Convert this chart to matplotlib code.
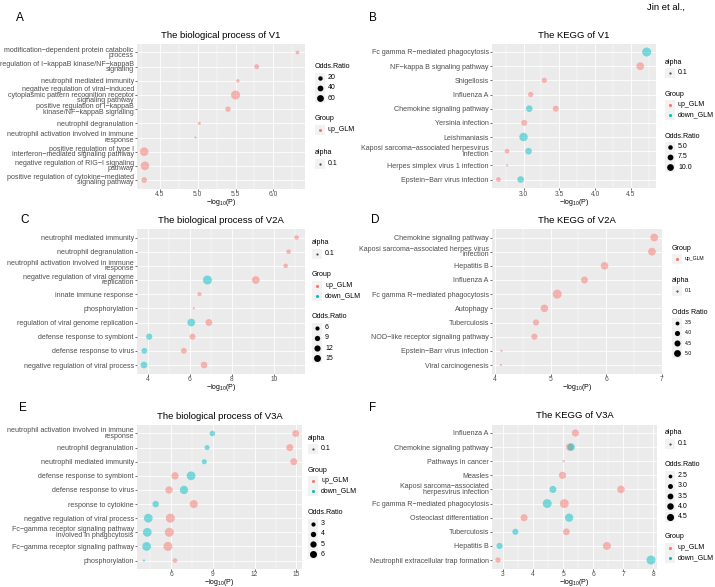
import matplotlib.pyplot as plt
import numpy as np
from matplotlib.patches import Rectangle
from matplotlib.ticker import AutoMinorLocator

plt.rcParams['font.family'] = ['Liberation Sans', 'DejaVu Sans']
plt.rcParams['mathtext.default'] = 'regular'

nan = np.nan
UP = '#F8766D'
DOWN = '#00BFC4'
W, H = 715, 587

# ---------------- data (rows listed top to bottom) ----------------
a_terms = ["modification\u2212dependent protein catabolic\nprocess",
           "regulation of I\u2212kappaB kinase/NF\u2212kappaB\nsignaling",
           "neutrophil mediated immunity",
           "negative regulation of viral\u2212induced\ncytoplasmic pattern recognition receptor\nsignaling pathway",
           "positive regulation of I\u2212kappaB\nkinase/NF\u2212kappaB signaling",
           "neutrophil degranulation",
           "neutrophil activation involved in immune\nresponse",
           "positive regulation of type I\ninterferon\u2212mediated signaling pathway",
           "negative regulation of RIG\u2212I signaling\npathway",
           "positive regulation of cytokine\u2212mediated\nsignaling pathway"]
a_up_p = [6.32, 5.78, 5.53, 5.50, 5.40, 5.02, 4.97, 4.29, 4.30, 4.29]
a_up_or = [8, 15, 7, 70, 18, 6, 5, 62, 62, 22]
a_down_p = [nan] * 10
a_down_or = [nan] * 10
a_ticks = [4.5, 5.0, 5.5, 6.0]
a_or_breaks = ["20", "40", "60"]

b_terms = ["Fc gamma R\u2212mediated phagocytosis", "NF\u2212kappa B signaling pathway",
           "Shigellosis", "Influenza A", "Chemokine signaling pathway",
           "Yersinia infection", "Leishmaniasis",
           "Kaposi sarcoma\u2212associated herpesvirus\ninfection",
           "Herpes simplex virus 1 infection", "Epstein\u2212Barr virus infection"]
b_up_p = [nan, 4.63, 3.29, 3.10, 3.45, 3.01, nan, 2.77, 2.77, 2.65]
b_up_or = [nan, 8.5, 4.5, 4.5, 5.5, 5.5, nan, 4.0, 2.8, 4.0]
b_down_p = [4.72, nan, nan, nan, 3.08, nan, 3.00, 3.07, nan, 2.96]
b_down_or = [11.5, nan, nan, nan, 6.5, nan, 10.0, 6.5, nan, 6.5]
b_ticks = [3.0, 3.5, 4.0, 4.5]
b_or_breaks = ["5.0", "7.5", "10.0"]

c_terms = ["neutrophil mediated immunity", "neutrophil degranulation",
           "neutrophil activation involved in immune\nresponse",
           "negative regulation of viral genome\nreplication",
           "innate immune response", "phosphorylation",
           "regulation of viral genome replication",
           "defense response to symbiont", "defense response to virus",
           "negative regulation of viral process"]
c_up_p = [11.07, 10.69, 10.55, 9.13, 6.45, 6.18, 6.90, 6.12, 5.71, 6.67]
c_up_or = [5, 5, 5, 12, 4.5, 3.5, 9.5, 7.5, 7, 9]
c_down_p = [nan, nan, nan, 6.83, nan, nan, 6.06, 4.06, 3.83, 3.81]
c_down_or = [nan, nan, nan, 16.5, nan, nan, 12, 8, 7, 9]
c_ticks = [4, 6, 8, 10]
c_or_breaks = ["6", "9", "12", "15"]

d_terms = ["Chemokine signaling pathway",
           "Kaposi sarcoma\u2212associated herpes virus\ninfection",
           "Hepatitis B", "Influenza A", "Fc gamma R\u2212mediated phagocytosis",
           "Autophagy", "Tuberculosis", "NOD\u2212like receptor signaling pathway",
           "Epstein\u2212Barr virus infection", "Viral carcinogenesis"]
d_up_p = [6.86, 6.82, 5.97, 5.61, 5.12, 4.89, 4.74, 4.71, 4.12, 4.11]
d_up_or = [4.6, 4.6, 4.5, 4.2, 5.3, 4.5, 3.9, 3.9, 3.2, 3.2]
d_down_p = [nan] * 10
d_down_or = [nan] * 10
d_ticks = [4, 5, 6, 7]
d_or_breaks = ["3.5", "4.0", "4.5", "5.0"]

e_terms = ["neutrophil activation involved in immune\nresponse",
           "neutrophil degranulation", "neutrophil mediated immunity",
           "defense response to symbiont", "defense response to virus",
           "response to cytokine", "negative regulation of viral process",
           "Fc\u2212gamma receptor signaling pathway\ninvolved in phagocytosis",
           "Fc\u2212gamma receptor signaling pathway", "phosphorylation"]
e_up_p = [14.95, 14.52, 14.81, 6.29, 5.86, 7.63, 5.95, 5.88, 5.78, 6.29]
e_up_or = [4.2, 4.2, 4.2, 4.5, 4.5, 5.2, 6.3, 6.3, 6.3, 2.7]
e_down_p = [8.97, 8.59, 8.39, 7.44, 6.93, 4.90, 4.37, 4.30, 4.25, 4.06]
e_down_or = [3.2, 2.9, 2.9, 6.0, 5.5, 3.8, 6.0, 6.0, 6.0, 2.2]
e_ticks = [6, 9, 12, 15]
e_or_breaks = ["3", "4", "5", "6"]

f_terms = ["Influenza A", "Chemokine signaling pathway", "Pathways in cancer",
           "Measles", "Kaposi sarcoma\u2212associated\nherpesvirus infection",
           "Fc gamma R\u2212mediated phagocytosis", "Osteoclast differentiation",
           "Tuberculosis", "Hepatitis B", "Neutrophil extracellular trap formation"]
f_up_p = [5.41, 5.22, 5.02, 4.98, 6.93, 5.04, 3.70, 5.11, 6.46, 2.83]
f_up_or = [3.5, 3.6, 2.2, 3.5, 3.7, 4.5, 3.4, 3.3, 3.9, 2.7]
f_down_p = [nan, 5.27, nan, nan, 4.66, 4.47, 5.20, 3.41, 2.88, 7.93]
f_down_or = [nan, 3.6, nan, nan, 3.4, 4.5, 4.1, 3.0, 3.0, 4.6]
f_ticks = [3, 4, 5, 6, 7, 8]
f_or_breaks = ["2.5", "3.0", "3.5", "4.0", "4.5"]

fig = plt.figure(figsize=(7.15, 5.87), dpi=100)
over = fig.add_axes([0, 0, 1, 1], zorder=5)
over.set_xlim(0, W)
over.set_ylim(H, 0)
over.axis('off')


def dsize(v, lo, hi):
    return 1.6 + 4.9 * np.sqrt((np.asarray(v, float) - lo) / (hi - lo))


def panel(box, letter, lxy, title, terms, up_p, up_or, dn_p, dn_or, ticks,
          xlim, breaks, leg_x, leg_blocks, small_leg=False):
    x0, y0, x1, y1 = box
    ax = fig.add_axes([x0 / W, 1 - y1 / H, (x1 - x0) / W, (y1 - y0) / H])
    ax.set_facecolor('#EBEBEB')
    for s in ax.spines.values():
        s.set_visible(False)
    n = len(terms)
    ypos = np.arange(n)[::-1]
    allor = np.array(up_or + dn_or, float)
    lo, hi = np.nanmin(allor), np.nanmax(allor)
    for p, o, col in [(up_p, up_or, UP), (dn_p, dn_or, DOWN)]:
        p = np.array(p, float)
        o = np.array(o, float)
        m = ~np.isnan(p)
        if m.any():
            ax.scatter(p[m], ypos[m], s=dsize(o[m], lo, hi) ** 2, c=col,
                       alpha=0.5, linewidths=0, zorder=3)
    ax.set_xlim(*xlim)
    ax.set_ylim(-0.6, n - 0.4)
    ax.set_yticks(ypos)
    ax.set_yticklabels(terms, fontsize=5.1, color='#4D4D4D')
    for lab in ax.get_yticklabels():
        lab.set_linespacing(0.7)
    ax.set_xticks(ticks)
    ax.set_xticklabels([f"{t:g}" if float(t).is_integer() and '.' not in str(t)
                        else f"{t:.1f}" for t in ticks], fontsize=4.8, color='#4D4D4D')
    ax.xaxis.set_minor_locator(AutoMinorLocator(2))
    ax.grid(True, which='major', color='white', lw=0.6)
    ax.grid(True, which='minor', axis='x', color='white', lw=0.3)
    ax.set_axisbelow(True)
    ax.tick_params(axis='both', which='major', length=1.3, width=0.5,
                   color='#333333', pad=1)
    ax.tick_params(axis='x', which='major', pad=0.5)
    ax.tick_params(axis='x', which='minor', length=0)
    cx = (x0 + x1) / 2
    fig.text(cx / W, 1 - (y0 - 8.5) / H, title, ha='center', va='center', fontsize=6.8)
    fig.text(cx / W, 1 - (y1 + 14) / H, r'$-log_{10}(P)$', ha='center',
             va='center', fontsize=5.0)
    fig.text(lxy[0] / W, 1 - lxy[1] / H, letter, ha='center', va='center', fontsize=8.5)

    # legends
    tfs = 5.1
    lfs = 3.7 if small_leg else 5.0
    has_dn = not np.all(np.isnan(np.array(dn_p, float)))
    for kind, yt in leg_blocks:
        if kind == 'alpha':
            ttl = 'alpha'
            ent = [('0.1', '#4D4D4D', 1.6)]
        elif kind == 'group':
            ttl = 'Group'
            ent = [('up_GLM', UP, 2.2)]
            if has_dn:
                ent.append(('down_GLM', DOWN, 2.2))
        else:
            ttl = 'Odds Ratio' if small_leg else 'Odds.Ratio'
            ent = [(b, 'black', 0.8 * dsize(float(b), lo, hi)) for b in breaks]
        over.text(leg_x, yt, ttl, ha='left', va='center', fontsize=tfs)
        for i, (lab, col, d) in enumerate(ent):
            yy = yt + 10.7 + i * 10.2
            over.add_patch(Rectangle((leg_x, yy - 5), 10, 10, color='#F2F2F2', lw=0))
            over.scatter([leg_x + 5], [yy], s=d ** 2, c=col, linewidths=0, zorder=6)
            over.text(leg_x + 13, yy, lab, ha='left', va='center', fontsize=lfs)
    return ax


panel((137, 44, 305, 188.5), 'A', (20, 18), 'The biological process of V1',
      a_terms, a_up_p, a_up_or, a_down_p, a_down_or, a_ticks, (4.195, 6.42),
      a_or_breaks, 315, [('odds', 67), ('group', 119), ('alpha', 153)])
panel((492, 43.5, 656, 188), 'B', (373, 18), 'The KEGG of V1',
      b_terms, b_up_p, b_up_or, b_down_p, b_down_or, b_ticks, (2.56, 4.85),
      b_or_breaks, 665, [('alpha', 62), ('group', 94), ('odds', 136)])
panel((137, 229, 305, 373.5), 'C', (25, 220), 'The biological process of V2A',
      c_terms, c_up_p, c_up_or, c_down_p, c_down_or, c_ticks, (3.48, 11.47),
      c_or_breaks, 312, [('alpha', 243), ('group', 275), ('odds', 317)])
panel((492, 229, 662, 373.5), 'D', (375, 220), 'The KEGG of V2A',
      d_terms, d_up_p, d_up_or, d_down_p, d_down_or, d_ticks, (3.95, 7.0),
      d_or_breaks, 672, [('group', 248), ('alpha', 280), ('odds', 312)],
      small_leg=True)
panel((137, 425, 302, 569), 'E', (23, 408), 'The biological process of V3A',
      e_terms, e_up_p, e_up_or, e_down_p, e_down_or, e_ticks, (3.56, 15.4),
      e_or_breaks, 308, [('alpha', 438), ('group', 470), ('odds', 513)])
panel((492, 424.5, 657, 568.5), 'F', (373, 408), 'The KEGG of V3A',
      f_terms, f_up_p, f_up_or, f_down_p, f_down_or, f_ticks, (2.63, 8.13),
      f_or_breaks, 665, [('alpha', 433), ('odds', 465), ('group', 537)])

fig.text(666 / W, 1 - 7 / H, 'Jin et al.,', ha='center', va='center', fontsize=6.8)

fig.savefig('out.png', dpi=100)
